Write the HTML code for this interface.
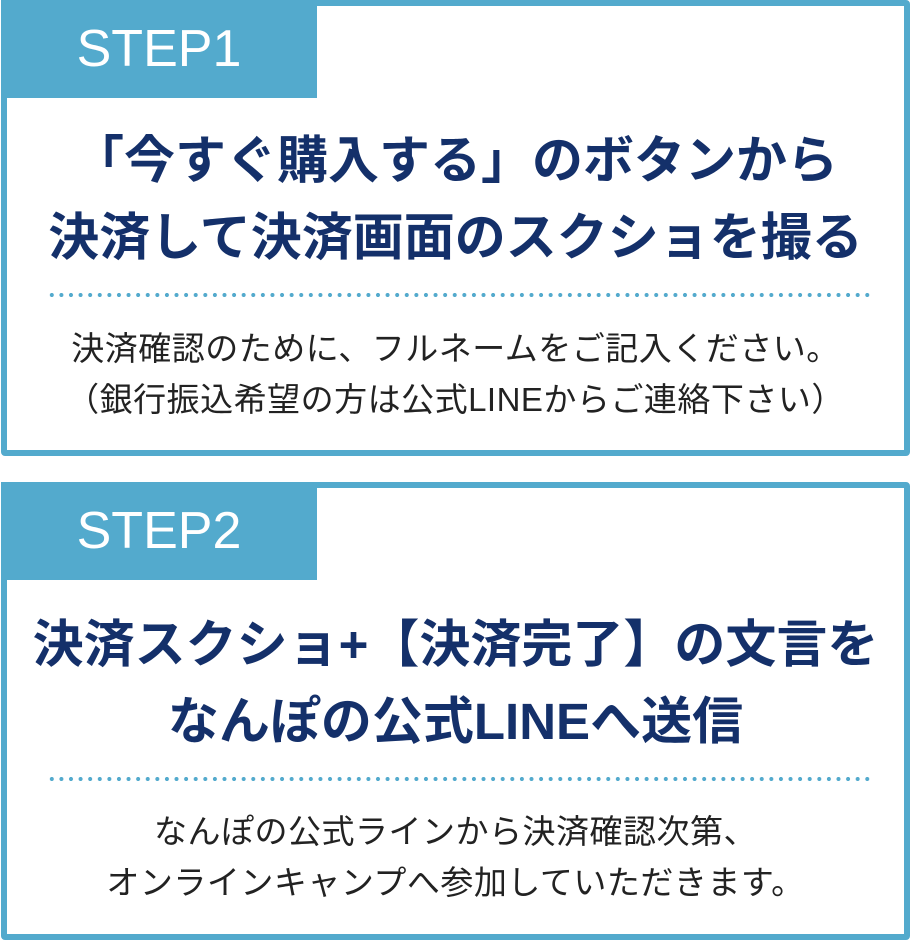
<!DOCTYPE html>
<html><head><meta charset="utf-8"><style>
body{margin:0;width:910px;height:940px;background:#fff;position:relative;overflow:hidden;font-family:"Liberation Sans","Noto Sans CJK JP",sans-serif}
.box{position:absolute;left:1px;width:897px;border:6px solid #53aacd;border-radius:4px;background:#fff}
.tab{position:absolute;left:-6px;top:-6px;width:316px;height:98px;background:#53aacd;color:#fff;font-size:52px;line-height:98px;text-align:center}
.title{position:absolute;left:-20px;right:-20px;text-align:center;color:#14306a;font-weight:bold;font-size:51px;line-height:77px;white-space:nowrap}
.dot{position:absolute;left:40px;right:30px;height:4px;background:radial-gradient(circle,#53aacd 1.9px,transparent 2.2px) 0 0/9.6px 4px repeat-x}
.body{position:absolute;left:-20px;right:-20px;text-align:center;color:#222;font-size:33px;line-height:51px;white-space:nowrap;letter-spacing:0.5px}
</style></head><body>
<div class="box" style="top:0;height:444px">
<div class="tab">STEP1</div>
<div class="title" style="top:116px">「今すぐ購入する」のボタンから<br>決済して決済画面のスクショを撮る</div>
<div class="dot" style="top:287px"></div>
<div class="body" style="top:317px">決済確認のために、フルネームをご記入ください。<br>（銀行振込希望の方は公式LINEからご連絡下さい）</div>
</div>
<div class="box" style="top:482px;height:446px">
<div class="tab">STEP2</div>
<div class="title" style="top:118px">決済スクショ+【決済完了】の文言を<br>なんぽの公式LINEへ送信</div>
<div class="dot" style="top:289px"></div>
<div class="body" style="top:318px">なんぽの公式ラインから決済確認次第、<br>オンラインキャンプへ参加していただきます。</div>
</div>
</body></html>
